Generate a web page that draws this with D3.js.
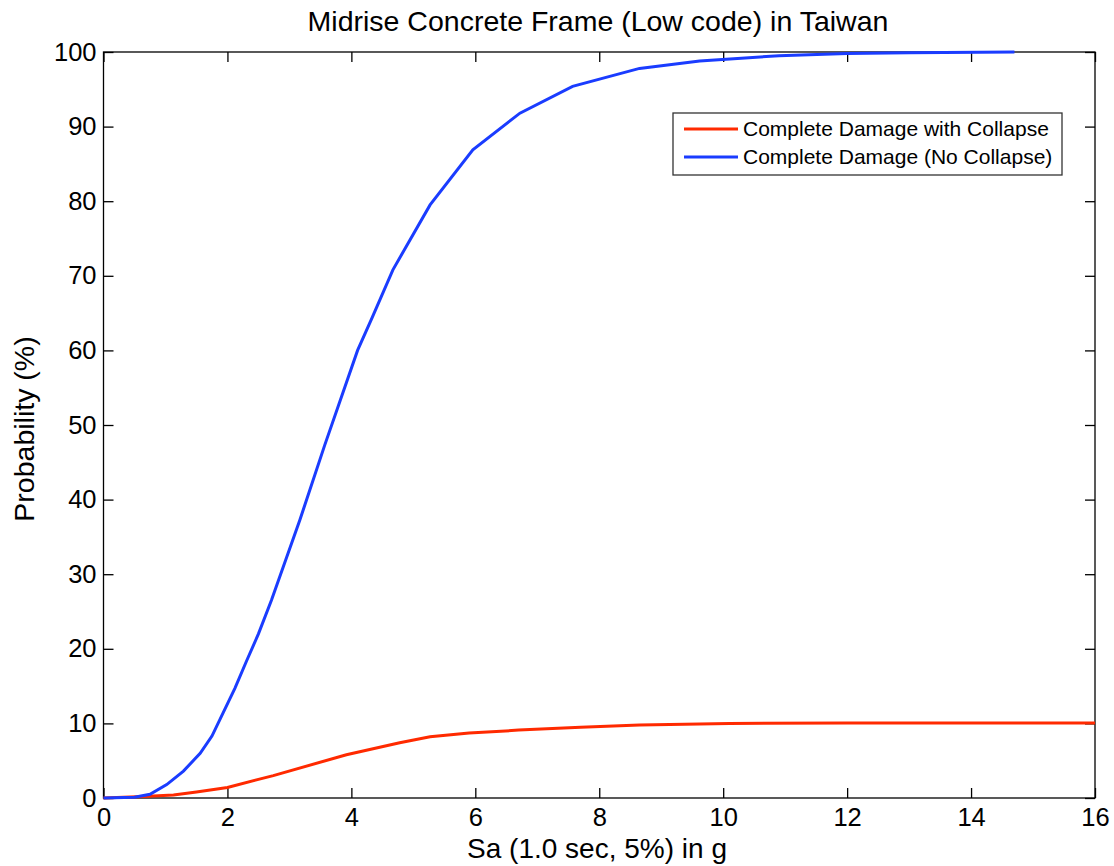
<!DOCTYPE html>
<html>
<head>
<meta charset="utf-8">
<script src="https://cdn.jsdelivr.net/npm/d3@7"></script>
<style>
  body { margin: 0; background: #fff; }
  text { font-family: "Liberation Sans", Arial, sans-serif; fill: #000; }
</style>
</head>
<body>
<div id="chart"></div>
<script>
// data
let blueSa = [0, 0.5, 0.75, 1.02, 1.29, 1.56, 1.75, 1.93, 2.12, 2.31, 2.5, 2.71, 3.17, 3.57, 4.1, 4.33, 4.67, 5.27, 5.96, 6.72, 7.57, 8.65, 9.62, 10.9, 12.0, 13.0, 14.7];
let blueP = [0, 0.1, 0.5, 1.8, 3.6, 6.0, 8.3, 11.4, 14.7, 18.4, 22.0, 26.5, 37.3, 47.3, 60.0, 64.3, 70.8, 79.5, 86.9, 91.8, 95.4, 97.8, 98.8, 99.5, 99.8, 99.9, 100];
let redSa = [0, 0.64, 1.13, 1.5, 2.0, 2.5, 2.74, 3.92, 4.78, 5.27, 5.9, 6.7, 7.7, 8.65, 10.1, 12.0, 16.0];
let redP = [0, 0.2, 0.4, 0.8, 1.4, 2.5, 3.0, 5.8, 7.4, 8.2, 8.7, 9.1, 9.5, 9.8, 10.0, 10.05, 10.05];
let xTicks = [0, 2, 4, 6, 8, 10, 12, 14, 16];
let yTicks = [0, 10, 20, 30, 40, 50, 60, 70, 80, 90, 100];
let seriesNames = ["Complete Damage with Collapse", "Complete Damage (No Collapse)"];
let seriesColors = ["#ff2a00", "#1a3cff"];

let w = 1114; let h = 866;
let pLeft = 103.5, pRight = 1095, pTop = 52, pBottom = 798;

let svg = d3.select("#chart").append("svg").attr("width", w).attr("height", h);

let x = d3.scaleLinear().domain([0, 16]).range([pLeft, pRight]);
let y = d3.scaleLinear().domain([0, 100]).range([pBottom, pTop]);

// box
svg.append("rect")
  .attr("x", pLeft).attr("y", pTop)
  .attr("width", pRight - pLeft).attr("height", pBottom - pTop)
  .attr("fill", "none").attr("stroke", "#000").attr("stroke-width", 1.3);

// axes with inward ticks
function styleAxis(g) {
  g.select(".domain").remove();
  g.selectAll(".tick line").attr("stroke", "#000").attr("stroke-width", 1.3);
}

svg.append("g").attr("transform", "translate(0," + pBottom + ")")
  .call(d3.axisBottom(x).tickValues(xTicks).tickSizeInner(-10).tickPadding(10).tickFormat(d3.format("d")))
  .call(styleAxis)
  .selectAll("text").attr("font-size", 25.5);

svg.append("g").attr("transform", "translate(0," + pTop + ")")
  .call(d3.axisTop(x).tickValues(xTicks).tickSizeInner(-10).tickFormat(""))
  .call(styleAxis);

svg.append("g").attr("transform", "translate(" + pLeft + ",0)")
  .call(d3.axisLeft(y).tickValues(yTicks).tickSizeInner(-10).tickPadding(7).tickFormat(d3.format("d")))
  .call(styleAxis)
  .selectAll("text").attr("font-size", 25.5);

svg.append("g").attr("transform", "translate(" + pRight + ",0)")
  .call(d3.axisRight(y).tickValues(yTicks).tickSizeInner(-10).tickFormat(""))
  .call(styleAxis);

// lines
let line = d3.line().x(d => x(d[0])).y(d => y(d[1]));
let redData = redSa.map((s, i) => [s, redP[i]]);
let blueData = blueSa.map((s, i) => [s, blueP[i]]);

svg.append("path").datum(redData)
  .attr("d", line).attr("fill", "none")
  .attr("stroke", seriesColors[0]).attr("stroke-width", 3);

svg.append("path").datum(blueData)
  .attr("d", line).attr("fill", "none")
  .attr("stroke", seriesColors[1]).attr("stroke-width", 3);

// title and labels
svg.append("text")
  .attr("x", 598).attr("y", 31)
  .attr("text-anchor", "middle").attr("font-size", 28.5)
  .text("Midrise Concrete Frame (Low code) in Taiwan");

svg.append("text")
  .attr("x", 597).attr("y", 858)
  .attr("text-anchor", "middle").attr("font-size", 28)
  .text("Sa (1.0 sec, 5%) in g");

svg.append("text")
  .attr("transform", "translate(34,429) rotate(-90)")
  .attr("text-anchor", "middle").attr("font-size", 28.5)
  .text("Probability (%)");

// legend
let legend = svg.append("g");
legend.append("rect")
  .attr("x", 673).attr("y", 113).attr("width", 389).attr("height", 62)
  .attr("fill", "#fff").attr("stroke", "#333").attr("stroke-width", 1.3);

seriesNames.forEach((name, i) => {
  let ly = 129 + i * 28;
  legend.append("line")
    .attr("x1", 684).attr("x2", 738).attr("y1", ly).attr("y2", ly)
    .attr("stroke", seriesColors[i]).attr("stroke-width", 3);
  legend.append("text")
    .attr("x", 743).attr("y", ly).attr("dy", "0.35em")
    .attr("font-size", 21).attr("fill", "#222")
    .text(name);
});
</script>
</body>
</html>
